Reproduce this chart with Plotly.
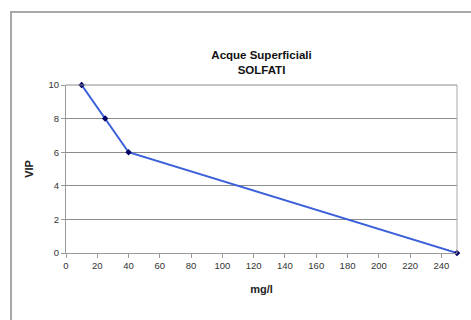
import plotly.graph_objects as go

x_vals = [10, 25, 40, 250]
y_vals = [10, 8, 6, 0]
x_ticks = list(range(0, 260, 20))
y_ticks = [0, 2, 4, 6, 8, 10]

W, H = 471, 320
L, R, T, B = 66, 14, 85, 67
pw, ph = W - L - R, H - T - B

fig = go.Figure()
fig.add_trace(go.Scatter(
    x=x_vals, y=y_vals, mode="lines+markers",
    line=dict(color="#3a5fd9", width=2),
    marker=dict(symbol="diamond", size=5, color="#000066"),
    showlegend=False, cliponaxis=False,
))

fig.update_layout(
    width=W, height=H,
    margin=dict(l=L, r=R, t=T, b=B),
    paper_bgcolor="white", plot_bgcolor="white",
    font=dict(family="Liberation Sans, Arial, sans-serif", size=9.5, color="#333333"),
    title=dict(text="<b>Acque Superficiali<br>SOLFATI</b>", x=(L + pw / 2) / W, xanchor="center",
               y=1 - 59 / H, yanchor="middle", yref="container", font=dict(size=11.5, color="#111111")),
    xaxis=dict(range=[0, 250], tickvals=x_ticks, showgrid=False, zeroline=False,
               showline=True, linecolor="#999999", linewidth=1, mirror=False,
               ticks="outside", ticklen=4, tickcolor="#999999",
               title=dict(text="<b>mg/l</b>", font=dict(size=11, color="#222222"), standoff=14)),
    yaxis=dict(range=[0, 10], tickvals=y_ticks, showgrid=True, gridcolor="#8c8c8c", gridwidth=1,
               zeroline=False, showline=True, linecolor="#999999", linewidth=1,
               ticks="outside", ticklen=4, tickcolor="#999999",
               title=dict(text="<b>VIP</b>", font=dict(size=11, color="#222222"), standoff=12)),
)

# plot area top and right border
fig.add_shape(type="line", xref="paper", yref="paper", x0=1, x1=1, y0=0, y1=1,
              line=dict(color="#aaaaaa", width=1))
fig.add_shape(type="line", xref="paper", yref="paper", x0=0, x1=1, y0=1, y1=1,
              line=dict(color="#8c8c8c", width=1))
# outer chart border
fig.add_shape(type="rect", xref="paper", yref="paper",
              x0=(11 - L) / pw, x1=(W + 5 - L) / pw,
              y0=(H - B - (H + 5)) / ph, y1=(H - B - 12) / ph,
              line=dict(color="#a8a8a8", width=2), layer="below")

fig.write_html("out.html")
